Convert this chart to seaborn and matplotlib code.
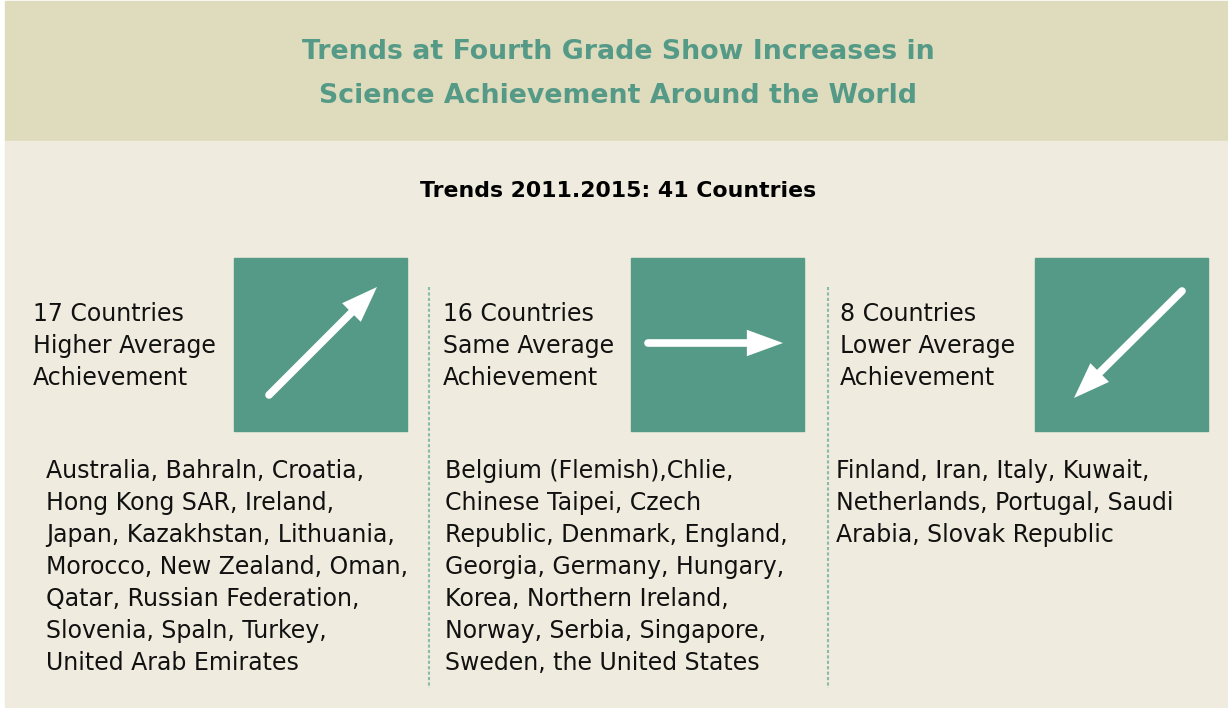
import numpy as np
import matplotlib.pyplot as plt
import matplotlib.patches as mpatches
import seaborn as sns

# infographic content
title_lines = ["Trends at Fourth Grade Show Increases in", "Science Achievement Around the World"]
subtitle = "Trends 2011.2015: 41 Countries"
counts = [17, 16, 8]
groups = ["Higher Average", "Same Average", "Lower Average"]
directions = ["up", "flat", "down"]
country_lists = [
    ["Australia, Bahraln, Croatia,", "Hong Kong SAR, Ireland,", "Japan, Kazakhstan, Lithuania,",
     "Morocco, New Zealand, Oman,", "Qatar, Russian Federation,", "Slovenia, Spaln, Turkey,",
     "United Arab Emirates"],
    ["Belgium (Flemish),Chlie,", "Chinese Taipei, Czech", "Republic, Denmark, England,",
     "Georgia, Germany, Hungary,", "Korea, Northern Ireland,", "Norway, Serbia, Singapore,",
     "Sweden, the United States"],
    ["Finland, Iran, Italy, Kuwait,", "Netherlands, Portugal, Saudi", "Arabia, Slovak Republic"],
]

sns.set_theme(style="white")
plt.rcParams['font.family'] = ['DejaVu Sans']

teal = "#549a87"
band = "#dfdbbd"
body = "#efebde"

fig = plt.figure(figsize=(12.28, 7.08), dpi=100)
ax = fig.add_axes([0, 0, 1, 1])
ax.set_xlim(0, 1228)
ax.set_ylim(708, 0)
ax.axis('off')

# backgrounds
ax.add_patch(mpatches.Rectangle((5, 1), 1223, 140, color=band, zorder=0))
ax.add_patch(mpatches.Rectangle((5, 141), 1223, 566, color=body, zorder=0))

for i, line in enumerate(title_lines):
    ax.text(618, 52 + 44 * i, line, color=teal, fontsize=19.3, fontweight='bold',
            ha='center', va='center')
ax.text(618, 191, subtitle, color='black', fontsize=15.8, fontweight='bold',
        ha='center', va='center')

# column geometry
head_x = [33, 443, 840]
list_x = [46, 445, 836]
box_x = [234, 631, 1035]
box_w = 173
box_top = 258
arrows = {"up": ((269, 395), (377, 287)),
          "flat": ((648, 343), (783, 343)),
          "down": ((1182, 291), (1074, 398))}

for k in range(3):
    ax.add_patch(mpatches.Rectangle((box_x[k], box_top), box_w, box_w, color=teal, zorder=1))
    start, end = arrows[directions[k]]
    # shaft stops a bit short of the tip, head drawn filled on top
    ax.annotate('', xy=end, xytext=start, zorder=3,
                arrowprops=dict(arrowstyle='-', color='white', lw=5.5,
                                capstyle='round', shrinkA=0, shrinkB=22))
    ax.annotate('', xy=end, xytext=start, zorder=3,
                arrowprops=dict(arrowstyle='-|>,head_length=2.6,head_width=0.95',
                                mutation_scale=10, color='white', lw=0.01,
                                shrinkA=0, shrinkB=0))
    head = [f"{counts[k]} Countries", groups[k], "Achievement"]
    for j, line in enumerate(head):
        ax.text(head_x[k], 314 + 32 * j, line, fontsize=17, color='#111111',
                ha='left', va='center')
    for j, line in enumerate(country_lists[k]):
        ax.text(list_x[k], 471 + 32 * j, line, fontsize=17, color='#111111',
                ha='left', va='center')

# dotted separators
for x in [429, 828]:
    ax.plot([x, x], [287, 688], color='#86bca9', lw=1.5, ls=(0, (1.5, 1.1)))

fig.savefig("out.png", dpi=100)
